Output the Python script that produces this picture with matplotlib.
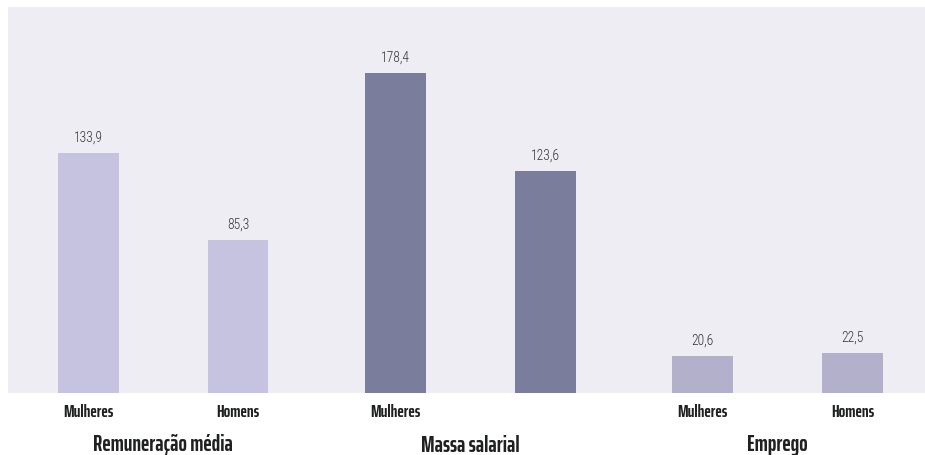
import matplotlib
matplotlib.use("Agg")
import matplotlib.pyplot as plt
from matplotlib.transforms import blended_transform_factory

groups = ["Remuneração média", "Massa salarial", "Emprego"]
bar_labels = ["Mulheres", "Homens", "Mulheres", "", "Mulheres", "Homens"]
values = [133.9, 85.3, 178.4, 123.6, 20.6, 22.5]
value_text = ["133,9", "85,3", "178,4", "123,6", "20,6", "22,5"]

# bar slots: a slightly wider gap between the three groups
positions = [0, 1, 2.05, 3.05, 4.1, 5.1]
colors = ["#c6c3e0", "#c6c3e0", "#7a7d9c", "#7a7d9c", "#b3b0cb", "#b3b0cb"]

label_font = ["Saira ExtraCondensed", "DejaVu Sans"]
value_font = ["Roboto Condensed", "DejaVu Sans"]

fig = plt.figure(figsize=(9.25, 4.55), dpi=100)
ax = fig.add_axes([8 / 925, 62 / 455, 917 / 925, 386 / 455])
ax.set_facecolor("#efedf4")
ax.bar(positions, values, width=0.405, color=colors)

for x, v, t in zip(positions, values, value_text):
    ax.annotate(t, (x, v), xytext=(0, 11), textcoords="offset pixels",
                ha="center", va="baseline", fontsize=9.8, weight="light",
                family=value_font, color="#333333")

ax.set_xlim(-0.535, 5.585)
ax.set_ylim(0, 215)
for s in ax.spines.values():
    s.set_visible(False)
ax.set_xticks([])
ax.set_yticks([])

trans = blended_transform_factory(ax.transData, fig.transFigure)
for x, lab in zip(positions, bar_labels):
    ax.text(x, (455 - 417) / 455, lab, transform=trans, ha="center",
            va="baseline", fontsize=12.5, weight="bold",
            family=label_font, color="#1f2121")

for i, g in enumerate(groups):
    xc = (positions[2 * i] + positions[2 * i + 1]) / 2
    ax.text(xc, (455 - 451.5) / 455, g, transform=trans, ha="center",
            va="baseline", fontsize=16, weight="bold",
            family=label_font, color="#1f2121")

fig.savefig("out.png", dpi=100)
